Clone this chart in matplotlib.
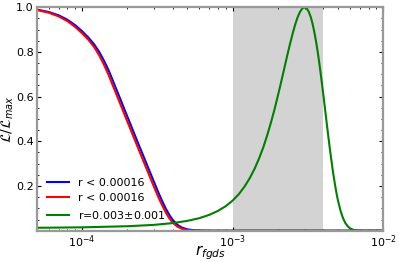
import numpy as np
import matplotlib
matplotlib.use("Agg")
import matplotlib.pyplot as plt
from matplotlib.ticker import MultipleLocator


# values
r_upper = [5.0e-5, 6.0e-5, 7.0e-5, 8.0e-5, 9.0e-5, 1.0e-4, 1.1e-4, 1.2e-4, 1.3e-4,
           1.4e-4, 1.5e-4, 1.6e-4, 1.7e-4, 1.8e-4, 1.9e-4, 2.0e-4, 2.2e-4, 2.4e-4,
           2.6e-4, 2.8e-4, 3.0e-4, 3.2e-4, 3.4e-4, 3.6e-4, 3.8e-4, 4.0e-4, 4.3e-4,
           4.6e-4, 5.0e-4, 5.5e-4, 6.0e-4, 7.0e-4, 1.0e-2]
like_blue = [0.990, 0.979, 0.964, 0.944, 0.920, 0.893, 0.865, 0.835, 0.800,
             0.760, 0.718, 0.672, 0.628, 0.587, 0.547, 0.510, 0.441, 0.378,
             0.321, 0.268, 0.219, 0.173, 0.133, 0.098, 0.070, 0.048, 0.026,
             0.014, 0.006, 0.002, 0.001, 0.0, 0.0]
like_red = [0.988, 0.976, 0.959, 0.938, 0.912, 0.884, 0.855, 0.823, 0.785,
            0.742, 0.697, 0.650, 0.606, 0.565, 0.525, 0.488, 0.419, 0.356,
            0.299, 0.246, 0.197, 0.152, 0.114, 0.081, 0.055, 0.036, 0.018,
            0.009, 0.003, 0.001, 0.0, 0.0, 0.0]

r_detect = [5e-5, 1e-4, 2e-4, 3e-4, 4e-4, 5e-4, 6e-4, 7e-4, 8e-4, 9e-4,
            1.0e-3, 1.1e-3, 1.2e-3, 1.3e-3, 1.4e-3, 1.5e-3, 1.6e-3, 1.7e-3,
            1.8e-3, 1.9e-3, 2.0e-3, 2.1e-3, 2.2e-3, 2.3e-3, 2.4e-3, 2.5e-3,
            2.6e-3, 2.7e-3, 2.8e-3, 2.9e-3, 3.0e-3, 3.1e-3, 3.2e-3, 3.3e-3,
            3.4e-3, 3.5e-3, 3.6e-3, 3.7e-3, 3.8e-3, 3.9e-3, 4.0e-3, 4.1e-3,
            4.2e-3, 4.3e-3, 4.4e-3, 4.5e-3, 4.6e-3, 4.7e-3, 4.8e-3, 4.9e-3,
            5.0e-3, 5.2e-3, 5.4e-3, 5.6e-3, 5.8e-3, 6.0e-3, 6.3e-3, 6.6e-3,
            7.0e-3, 8.0e-3, 1.0e-2]
like_green = [0.013, 0.015, 0.020, 0.026, 0.034, 0.044, 0.056, 0.071, 0.089, 0.110,
              0.135, 0.164, 0.198, 0.236, 0.278, 0.325, 0.375, 0.430,
              0.487, 0.546, 0.607, 0.667, 0.726, 0.783, 0.835, 0.882,
              0.923, 0.956, 0.980, 0.995, 1.000, 0.995, 0.980, 0.956,
              0.923, 0.882, 0.835, 0.783, 0.726, 0.667, 0.607, 0.546,
              0.487, 0.430, 0.375, 0.325, 0.278, 0.236, 0.198, 0.164,
              0.135, 0.089, 0.056, 0.034, 0.020, 0.011, 0.004, 0.002,
              0.0, 0.0, 0.0]

band = (1e-3, 4e-3)
labels = ["r < 0.00016", "r < 0.00016", r"r=0.003$\pm$0.001"]


fig = plt.figure(figsize=(3.99, 2.62), dpi=100)
ax = fig.add_axes([0.092, 0.1195, 0.8687, 0.8527])

ax.axvspan(band[0], band[1], color="#d3d3d3", lw=0)
ax.plot(r_upper, like_blue, color="blue", lw=1.5, label=labels[0])
ax.plot(r_upper, like_red, color="red", lw=1.5, label=labels[1])
ax.plot(r_detect, like_green, color="green", lw=1.5, label=labels[2])

ax.set_xscale("log")
ax.set_xlim(5e-5, 1e-2)
ax.set_ylim(0.0, 1.0)
ax.set_yticks([0.2, 0.4, 0.6, 0.8, 1.0])
ax.yaxis.set_minor_locator(MultipleLocator(0.05))

ax.tick_params(which="both", direction="in", top=True, right=True,
               labelsize=8, pad=2)
ax.tick_params(which="major", length=3, width=0.8)
ax.tick_params(which="minor", length=1.5, width=0.6)
for sp in ax.spines.values():
    sp.set_color("#999999")
    sp.set_linewidth(1.6)

ax.set_xlabel(r"$r_{fgds}$", fontsize=11, labelpad=-5)
ax.set_ylabel(r"$\mathcal{L}/\mathcal{L}_{max}$", fontsize=10, labelpad=0)

ax.legend(loc="lower left", frameon=False, fontsize=8)

fig.savefig("out.png", dpi=100)
